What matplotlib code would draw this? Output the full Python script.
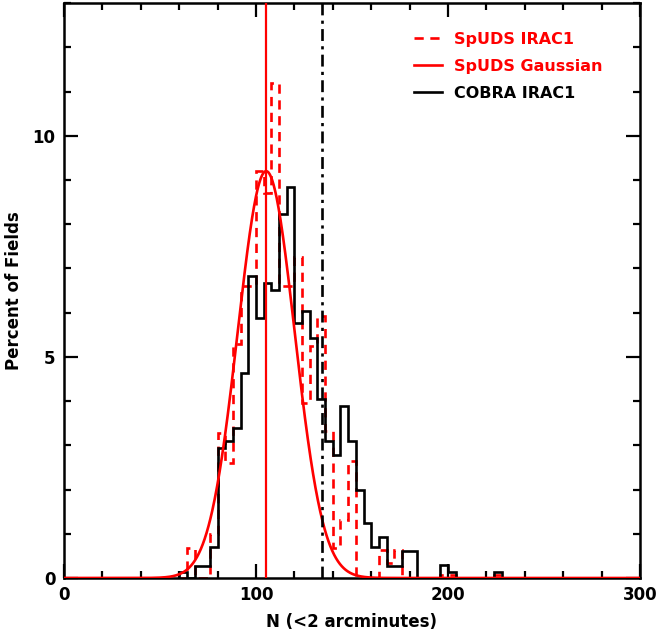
import numpy as np
import matplotlib
matplotlib.use("Agg")
import matplotlib.pyplot as plt
from matplotlib.lines import Line2D
from matplotlib.ticker import MultipleLocator

# ── data (percent of fields per 4-count bin, bins start at 60) ─────────────
bin_edges = np.arange(60, 232 + 4, 4)

cobra_irac1 = [0.14, 0.0, 0.28, 0.28, 0.71, 2.94, 3.09, 3.39, 4.64, 6.82,
               5.89, 6.68, 6.51, 8.23, 8.85, 5.77, 6.04, 5.43, 4.04, 3.09,
               2.79, 3.88, 3.09, 2.00, 1.24, 0.71, 0.92, 0.28, 0.28, 0.62,
               0.62, 0.0, 0.0, 0.0, 0.29, 0.14, 0.0, 0.0, 0.0, 0.0,
               0.0, 0.14, 0.0]

spuds_irac1 = [0.0, 0.67, 0.0, 0.0, 1.00, 3.28, 2.60, 5.28, 6.60, 6.60,
               9.20, 8.70, 11.20, 6.60, 6.60, 7.25, 3.96, 5.24, 5.93, 3.32,
               0.67, 1.32, 2.64, 0.0, 0.0, 0.0, 0.63, 0.33, 0.63, 0.0,
               0.0, 0.0, 0.0, 0.0, 0.07, 0.07, 0.0, 0.0, 0.0, 0.0,
               0.0, 0.07, 0.0]

# Gaussian fit to SpUDS counts
gauss_mean = 105.3
gauss_sigma = 14.8
gauss_peak = 9.2

# COBRA mean
cobra_mean = 134.2

labels = ["SpUDS IRAC1", "SpUDS Gaussian", "COBRA IRAC1"]

# ── figure ──────────────────────────────────────────────────────────────────
plt.rcParams["font.family"] = "DejaVu Sans"
plt.rcParams["font.weight"] = "bold"

fig = plt.figure(figsize=(6.57, 6.36), dpi=100)
ax = fig.add_axes([0.0974, 0.0912, 0.8767, 0.9040])

ax.stairs(spuds_irac1, bin_edges, color="red", lw=1.9,
          linestyle=(0, (3.5, 2.5)), zorder=2)
ax.stairs(cobra_irac1, bin_edges, color="black", lw=1.9, zorder=3)

xg = np.linspace(0, 300, 1201)
yg = gauss_peak * np.exp(-0.5 * ((xg - gauss_mean) / gauss_sigma) ** 2)
ax.plot(xg, yg, color="red", lw=1.9, zorder=4)

ax.axvline(gauss_mean, color="red", lw=1.6, zorder=4)
ax.axvline(cobra_mean, color="black", lw=1.9, linestyle=(0, (4.5, 2, 1.2, 2)), zorder=4)

ax.set_xlim(0, 300)
ax.set_ylim(0, 13)
ax.xaxis.set_major_locator(MultipleLocator(100))
ax.xaxis.set_minor_locator(MultipleLocator(20))
ax.yaxis.set_major_locator(MultipleLocator(5))
ax.yaxis.set_minor_locator(MultipleLocator(1))
ax.tick_params(which="both", direction="in", top=True, right=True,
               width=1.6, labelsize=12, pad=6)
ax.tick_params(which="major", length=10)
ax.tick_params(which="minor", length=5)
for sp in ax.spines.values():
    sp.set_linewidth(1.8)

ax.set_xlabel("N (<2 arcminutes)", fontsize=12, fontweight="bold", labelpad=6)
ax.set_ylabel("Percent of Fields", fontsize=12, fontweight="bold", labelpad=7)

handles = [
    Line2D([], [], color="red", lw=1.9, linestyle=(0, (3.5, 2.5))),
    Line2D([], [], color="red", lw=1.9),
    Line2D([], [], color="black", lw=1.9),
]
leg = ax.legend(handles, labels, loc="upper right", frameon=False,
                fontsize=11.5, handlelength=1.75, handletextpad=0.75,
                labelspacing=0.75, bbox_to_anchor=(0.96, 0.975),
                labelcolor=["red", "red", "black"])
for t in leg.get_texts():
    t.set_fontweight("bold")

fig.savefig("out.png", dpi=100)
